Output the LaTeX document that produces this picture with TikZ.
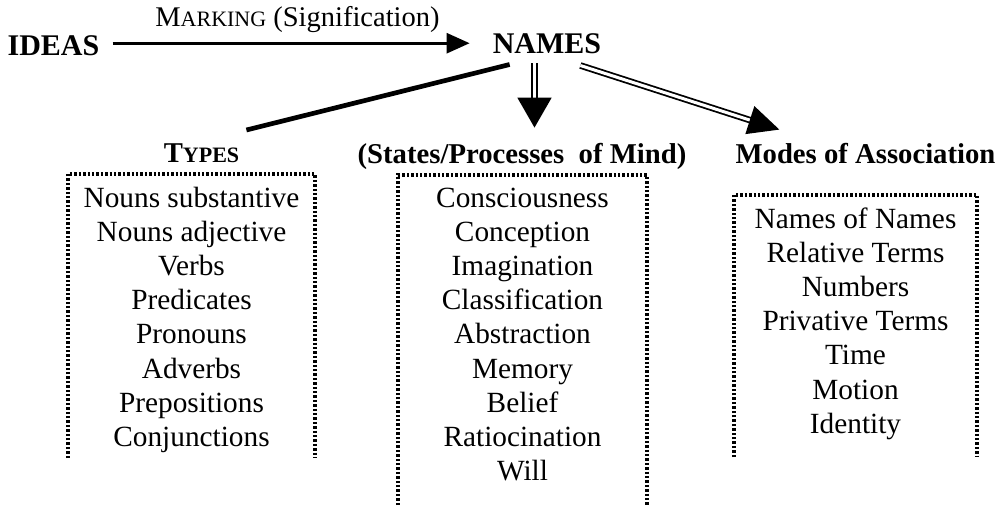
\documentclass[tikz,border=0pt]{standalone}
\usepackage{fontspec}
\setmainfont{Liberation Serif}
\usetikzlibrary{arrows.meta,calc}

\newcommand{\smcap}[1]{{\fontsize{22}{22}\selectfont #1}}

\begin{document}
\begin{tikzpicture}[x=1pt,y=-1pt,
  every node/.style={inner sep=0pt,anchor=base},
  head/.style={font=\fontsize{30}{30}\selectfont\bfseries},
  title/.style={font=\fontsize{28.7}{30}\selectfont\bfseries},
  item/.style={font=\fontsize{29.3}{34}\selectfont},
  dotbox/.style={line width=3.4pt,dash pattern=on 2.4pt off 2pt},
  dbl/.style={double,double distance=3pt,line width=1.8pt}]
\useasboundingbox (0,0) rectangle (1005,506);

\node[head] (ideas) at (53.5,55) {IDEAS};
\node[head] (names) at (547,53) {NAMES};
\node[font=\fontsize{28.5}{30}\selectfont] (marking) at (297.5,27) {M\smcap{ARKING} (Signification)};

\node[title] (types) at (201.5,162) {T\smcap{YPES}};
\node[title] (states) at (522,163) {(States/Processes\ \ of Mind)};
\node[title] (modes) at (865.5,163) {Modes of Association};

\draw[line width=2.7pt,-{Triangle[length=23pt,width=20pt]}]
  ($(ideas.east |- names.west)+(13,0)$) -- ($(names.west)+(-23,0)$);
\draw[line width=4.7pt] ($(names.south west)+(17,11)$) -- ($(types.north east)+(7,-13)$);
\draw[dbl,-{Triangle[length=30pt,width=34pt]}]
  ($(names.south)+(-12.5,10)$) -- ($(states.north)+(12.5,-15)$);
\draw[dbl,-{Triangle[length=31pt,width=29pt]}]
  ($(names.south east)+(-21,12)$) -- ($(modes.north west)+(44,-13)$);

\draw[dotbox] (68,458) -- (68,174) -- (315,174) -- (315,458);
\draw[dotbox] (398,505) -- (398,175) -- (647,175) -- (647,505);
\draw[dotbox] (734,457) -- (734,195) -- (977,195) -- (977,457);

\foreach \t [count=\i from 0] in {Nouns substantive,Nouns adjective,Verbs,Predicates,
  Pronouns,Adverbs,Prepositions,Conjunctions}
  \node[item] (type\i) at (191.5,207+34.2*\i) {\t};
\foreach \t [count=\i from 0] in {Consciousness,Conception,Imagination,Classification,
  Abstraction,Memory,Belief,Ratiocination,Will}
  \node[item] (state\i) at (522.5,207+34.2*\i) {\t};
\foreach \t [count=\i from 0] in {Names of Names,Relative Terms,Numbers,Privative Terms,
  Time,Motion,Identity}
  \node[item] (mode\i) at (855.5,228+34.2*\i) {\t};
\end{tikzpicture}
\end{document}
